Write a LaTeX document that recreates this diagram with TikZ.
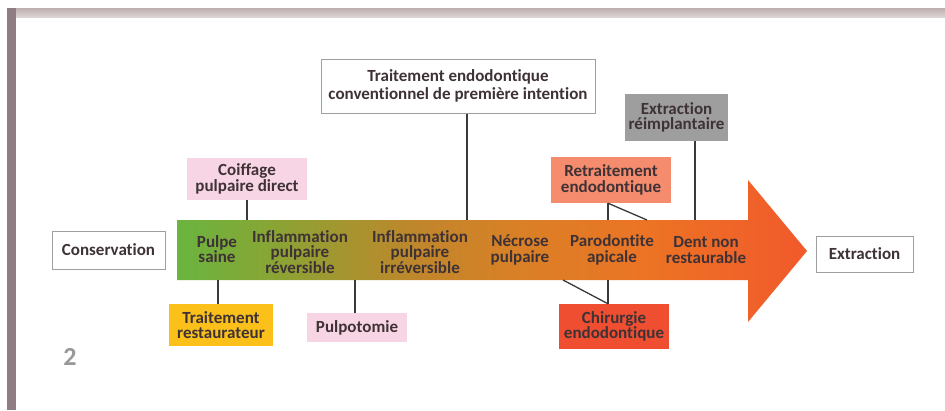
\documentclass[tikz,border=0pt]{standalone}
\usepackage{fontspec}
\setmainfont{Carlito}[Ligatures=NoCommon]
\usetikzlibrary{calc}

\definecolor{txt}{HTML}{3E3236}
\definecolor{lnk}{HTML}{3A3A3A}
\definecolor{pinkbox}{HTML}{F8D5E4}
\definecolor{yellowbox}{HTML}{FBC019}
\definecolor{salmonbox}{HTML}{F58C6E}
\definecolor{redbox}{HTML}{EF4F30}
\definecolor{graybox}{HTML}{9E9E9E}
\definecolor{frameTop}{HTML}{BDAFB0}
\definecolor{frameLow}{HTML}{DCD4D4}
\definecolor{frameSide}{HTML}{8E7E84}
\definecolor{stgA}{HTML}{6AB43F}
\definecolor{stgB}{HTML}{86A635}
\definecolor{stgC}{HTML}{C0862B}
\definecolor{stgD}{HTML}{D98026}
\definecolor{stgE}{HTML}{EC7424}
\definecolor{stgF}{HTML}{F1592B}

\pgfdeclarehorizontalshading{stageshade}{100bp}{color(0bp)=(stgA); color(25bp)=(stgA); color(32bp)=(stgB); color(44bp)=(stgC); color(52bp)=(stgD); color(62bp)=(stgE); color(75bp)=(stgF); color(100bp)=(stgF)}

\newcommand{\lblfont}{\fontsize{17}{15.5}\selectfont\bfseries}

\begin{document}
\begin{tikzpicture}[x=1pt,y=-1pt,
	box/.style={draw=gray!75, line width=1pt, fill=white, align=center, inner sep=0pt, text=txt, font=\lblfont},
	tag/.style={align=center, inner sep=0pt, text=txt, font=\lblfont},
	stage/.style={align=center, inner sep=0pt, text=txt, font=\lblfont},
	link/.style={draw=lnk, line width=1.3pt}]

	\useasboundingbox (0,0) rectangle (945,410);
	\fill[white] (0,0) rectangle (945,410);

	% frame
	\shade[top color=frameTop, bottom color=frameLow] (7,8) rectangle (945,17);
	\fill[frameSide] (7,8) rectangle (16,410);

	% arrow
	\shade[shading=stageshade] (177,220) -- (748,220) -- (748,180) -- (807,251) -- (748,322) -- (748,280) -- (177,280) -- cycle;
	\coordinate (bt) at (0,220);
	\coordinate (bb) at (0,280);

	% stages
	\node[stage] (s1) at (217,249) {Pulpe\\saine};
	\node[stage] (s2) at (300,252) {Inflammation\\pulpaire\\réversible};
	\node[stage] (s3) at (420,252) {Inflammation\\pulpaire\\irréversible};
	\node[stage] (s4) at (520,250) {Nécrose\\pulpaire};
	\node[stage] (s5) at (612,250) {Parodontite\\apicale};
	\node[stage] (s6) at (706,250) {Dent non\\restaurable};

	% ends
	\node[box, minimum width=113, minimum height=38] (cons) at (108.5,250) {Conservation};
	\node[box, minimum width=97, minimum height=36] (extr) at (864.5,254) {Extraction};

	% treatments
	\node[tag, fill=pinkbox, minimum width=120, minimum height=42] (coif) at (247,179) {Coiffage\\pulpaire direct};
	\node[tag, fill=yellowbox, minimum width=104, minimum height=42] (restau) at (221,325) {Traitement\\restaurateur};
	\node[tag, fill=pinkbox, minimum width=100, minimum height=29] (pulpo) at (357,327.5) {Pulpotomie};
	\node[box, minimum width=274, minimum height=54, font=\fontsize{17}{17.5}\selectfont\bfseries] (endo) at (458,86) {Traitement endodontique\\conventionnel de première intention};
	\node[tag, fill=graybox, minimum width=103, minimum height=47] (reimp) at (676.5,117.5) {Extraction\\réimplantaire};
	\node[tag, fill=salmonbox, minimum width=120, minimum height=46] (retrait) at (611,180) {Retraitement\\endodontique};
	\node[tag, fill=redbox, minimum width=110, minimum height=45] (chir) at (614,326.5) {Chirurgie\\endodontique};

	\coordinate (retraitA) at ([xshift=-3pt]retrait.south);
	\coordinate (retraitB) at (647,220);
	\coordinate (chirA) at ([xshift=-6pt]chir.north);
	\coordinate (chirB) at (563,280);

	% links
	\draw[link] (coif.south) -- (coif.south |- bt);
	\draw[link] ([xshift=-3pt]restau.north) -- ([xshift=-3pt]restau.north |- bb);
	\draw[link] ([xshift=-2pt]pulpo.north) -- ([xshift=-2pt]pulpo.north |- bb);
	\draw[link] ([xshift=9pt]endo.south) -- ([xshift=9pt]endo.south |- bt);
	\draw[link] ([xshift=18.5pt]reimp.south) -- ([xshift=18.5pt]reimp.south |- bt);
	\draw[link] (retraitA) -- (retraitA |- bt);
	\draw[link] (retraitA) -- (retraitB);
	\draw[link] (chirA) -- (chirA |- bb);
	\draw[link] (chirA) -- (chirB);

	\node[text=gray!80, font=\fontsize{26}{26}\selectfont\bfseries] (fignum) at (70,357) {2};
\end{tikzpicture}
\end{document}
